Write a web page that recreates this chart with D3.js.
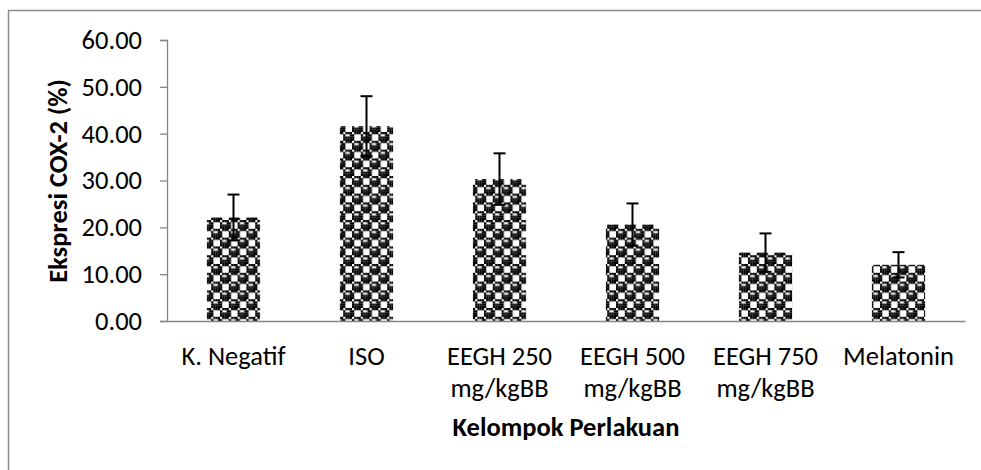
<!DOCTYPE html>
<html>
<head>
<meta charset="utf-8">
<script src="https://cdn.jsdelivr.net/npm/d3@7"></script>
<style>
  html, body { margin: 0; padding: 0; background: #fff; }
  svg { display: block; }
  text { font-family: Carlito, Lato, "Open Sans", sans-serif; fill: #000; }
</style>
</head>
<body>
<svg id="chart" width="981" height="470"></svg>
<script>
// ---- data ----
const categories = [
  ["K. Negatif"],
  ["ISO"],
  ["EEGH 250", "mg/kgBB"],
  ["EEGH 500", "mg/kgBB"],
  ["EEGH 750", "mg/kgBB"],
  ["Melatonin"]
];
const values = [22.1, 41.6, 30.3, 20.6, 14.6, 12.0];
const errors = [4.9, 6.4, 5.5, 4.5, 4.1, 2.7];
const yTicks = [0, 10, 20, 30, 40, 50, 60];
const yTitle = "Ekspresi COX-2 (%)";
const xTitle = "Kelompok Perlakuan";

// ---- layout ----
const svg = d3.select("#chart");
const plot = { left: 167, right: 965, top: 40, bottom: 321 };
const keys = categories.map((c, i) => i);
const FS = "26.5px";

const x = d3.scaleBand().domain(keys).range([plot.left, plot.right])
  .paddingInner(0.6).paddingOuter(0.3);
const y = d3.scaleLinear().domain([0, 60]).range([plot.bottom, plot.top]);

// outer chart border (right/bottom outside view)
svg.append("rect").attr("x", 8.5).attr("y", 10.5).attr("width", 1000).attr("height", 500)
  .attr("fill", "none").attr("stroke", "#8c8c8c").attr("stroke-width", 1.5);

// sphere pattern (8x8 bits, scaled)
const bits = [0x77, 0x98, 0xF8, 0xF8, 0x77, 0x89, 0x8F, 0x8F];
const s = 2.2;
const defs = svg.append("defs");
const pat = defs.append("pattern").attr("id", "sphere")
  .attr("patternUnits", "userSpaceOnUse").attr("width", 8 * s).attr("height", 8 * s);
pat.append("rect").attr("width", 8 * s).attr("height", 8 * s).attr("fill", "#fff");
bits.forEach((b, r) => {
  for (let c = 0; c < 8; c++) {
    if (b & (0x80 >> c)) {
      pat.append("rect").attr("x", c * s).attr("y", r * s)
        .attr("width", s + 0.05).attr("height", s + 0.05).attr("fill", "#000");
    }
  }
});

// bars
svg.append("g").selectAll("rect").data(keys).join("rect")
  .attr("x", i => x(i)).attr("width", x.bandwidth())
  .attr("y", i => y(values[i])).attr("height", i => y(0) - y(values[i]))
  .attr("fill", "url(#sphere)");

// y axis
const yAxis = d3.axisLeft(y).tickValues(yTicks).tickFormat(d3.format(".2f"))
  .tickSize(7).tickPadding(18);
const gy = svg.append("g").attr("transform", `translate(${plot.left},0)`).call(yAxis);
gy.select(".domain").attr("stroke", "#868686").attr("stroke-width", 1.3);
gy.selectAll(".tick line").attr("stroke", "#868686").attr("stroke-width", 1.3);
gy.selectAll(".tick text").style("font-size", FS).attr("fill", "#000");

// x axis line
const xAxis = d3.axisBottom(x).tickSize(0).tickFormat("");
const gx = svg.append("g").attr("transform", `translate(0,${plot.bottom})`).call(xAxis);
gx.select(".domain").attr("stroke", "#868686").attr("stroke-width", 1.5);

// x category labels
const lab = svg.append("g").selectAll("text").data(keys).join("text")
  .attr("x", i => x(i) + x.bandwidth() / 2)
  .attr("y", 365)
  .attr("text-anchor", "middle")
  .style("font-size", FS);
lab.selectAll("tspan").data(i => categories[i]).join("tspan")
  .attr("x", function () { return d3.select(this.parentNode).attr("x"); })
  .attr("dy", (d, j) => j === 0 ? 0 : 32)
  .text(d => d);

// error bars
const eg = svg.append("g").attr("stroke", "#000").attr("stroke-width", 2);
keys.forEach(i => {
  const cx = x(i) + x.bandwidth() / 2;
  const top = y(values[i] + errors[i]);
  const bot = y(values[i] - errors[i]);
  eg.append("line").attr("x1", cx).attr("x2", cx).attr("y1", top).attr("y2", bot);
  eg.append("line").attr("x1", cx - 6).attr("x2", cx + 6).attr("y1", top).attr("y2", top);
  eg.append("line").attr("x1", cx - 6).attr("x2", cx + 6).attr("y1", bot).attr("y2", bot);
});

// axis titles
svg.append("text").attr("transform", `translate(67,181) rotate(-90)`)
  .attr("text-anchor", "middle").style("font-size", FS).style("font-weight", "bold")
  .text(yTitle);
svg.append("text").attr("x", 566).attr("y", 436)
  .attr("text-anchor", "middle").style("font-size", FS).style("font-weight", "bold")
  .text(xTitle);
</script>
</body>
</html>
